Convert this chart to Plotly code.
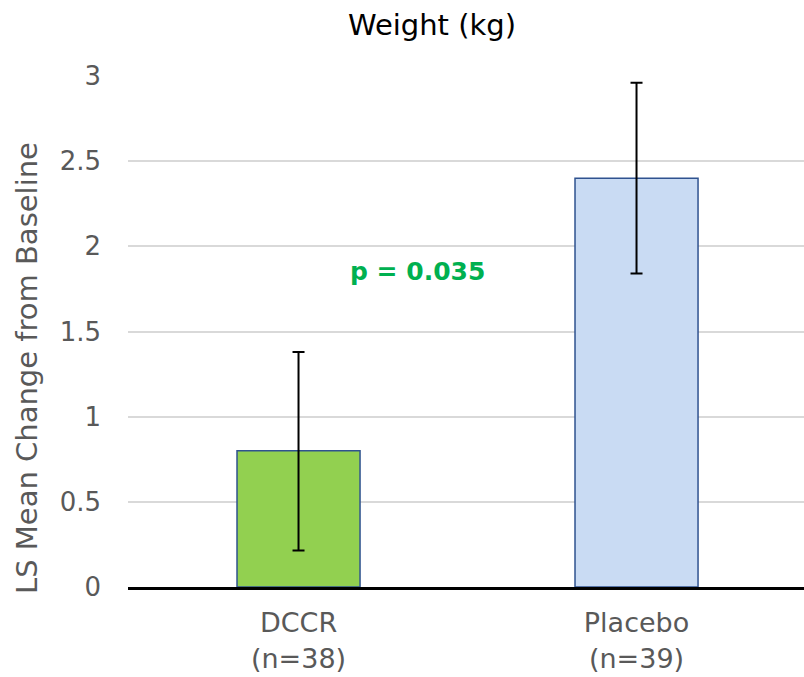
import plotly.graph_objects as go

categories = ["DCCR<br>(n=38)", "Placebo<br>(n=39)"]
means = [0.8, 2.4]
err_plus = [0.58, 0.56]
err_minus = [0.585, 0.56]
colors = ["#92D050", "#C9DBF3"]
y_ticks = [0, 0.5, 1, 1.5, 2, 2.5, 3]
y_tick_labels = ["0", "0.5", "1", "1.5", "2", "2.5", "3"]
p_label = "p = 0.035"

FONT = "DejaVu Sans"
W, H = 804, 677
L, T, B = 128, 76, 90
PW = W - L
PH = H - T - B

fig = go.Figure()
fig.add_trace(go.Bar(
    x=categories, y=means, width=0.364,
    marker=dict(color=colors, line=dict(color="#2F528F", width=1.5)),
    error_y=dict(type="data", symmetric=False, array=err_plus, arrayminus=err_minus,
                 color="black", thickness=2, width=6),
))

fig.update_layout(
    width=W, height=H,
    margin=dict(l=L, r=0, t=T, b=B),
    plot_bgcolor="white", paper_bgcolor="white",
    showlegend=False,
    font=dict(family=FONT, color="#595959"),
    title=dict(text="Weight (kg)", x=432 / W, xanchor="center", xref="container",
               y=1 - 25 / H, yanchor="middle", yref="container",
               font=dict(family=FONT, size=29, color="black")),
)
fig.update_xaxes(
    range=[-0.5045, 1.4955],
    showline=True, linecolor="black", linewidth=3,
    tickfont=dict(family=FONT, size=27, color="#595959"),
    ticklabelstandoff=10, showgrid=False,
)
fig.update_yaxes(
    range=[0, 3], tickvals=y_ticks, ticktext=y_tick_labels,
    showgrid=True, gridcolor="#D9D9D9", gridwidth=1.5,
    zeroline=False, showline=False,
    tickfont=dict(family=FONT, size=26, color="#595959"),
    ticklabelstandoff=26,
)
fig.add_annotation(
    text="LS Mean Change from Baseline", textangle=-90,
    xref="paper", yref="paper", x=(27 - L) / PW, y=(587 - 368) / PH,
    xanchor="center", yanchor="middle", showarrow=False,
    font=dict(family=FONT, size=29, color="#595959"),
)
fig.add_annotation(
    text="<b>" + p_label + "</b>",
    xref="paper", yref="y", x=(417 - L) / PW, y=1.855,
    xanchor="center", yanchor="middle", showarrow=False,
    font=dict(family=FONT, size=25, color="#00B050"),
)

fig.write_html(
    "out.html",
    config={"displayModeBar": False},
    post_script="document.body.style.margin='0px';document.body.style.overflow='hidden';",
)
